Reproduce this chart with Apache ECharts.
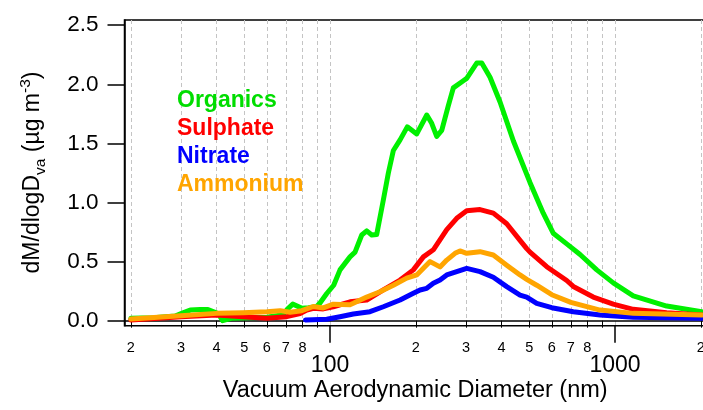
<!DOCTYPE html>
<html>
<head>
<meta charset="utf-8">
<script src="https://cdn.jsdelivr.net/npm/echarts@6/dist/echarts.min.js"></script>
<style>
  html, body { margin: 0; padding: 0; background: #fff; }
  #chart { width: 703px; height: 410px; }
</style>
</head>
<body>
<div id="chart"></div>
<script>
// Mass size distributions, [vacuum aerodynamic diameter (nm), dM/dlogDva (ug m-3)]
const organics = [
  [20, 0.02], [24, 0.025], [28.6, 0.04], [30, 0.06], [32.3, 0.09], [35, 0.095], [37.3, 0.095],
  [40.5, 0.06], [42, 0.0], [45, 0.02], [52, 0.025], [60, 0.03], [68.4, 0.05], [71, 0.1],
  [74, 0.14], [79.8, 0.105], [84, 0.11], [89.8, 0.12], [92.2, 0.15], [97.4, 0.23], [103, 0.3],
  [108.4, 0.43], [117.5, 0.54], [122.4, 0.58], [129.2, 0.725], [134.5, 0.76], [140.1, 0.725],
  [145.8, 0.73], [153.8, 1.02], [160.2, 1.25], [166.8, 1.44], [176.1, 1.53], [186.7, 1.64],
  [201.5, 1.58], [218.5, 1.74], [227.4, 1.67], [236.8, 1.56], [246.6, 1.61], [260.1, 1.82],
  [270.8, 1.97], [293.6, 2.03], [301.7, 2.05], [327.2, 2.18], [340.7, 2.18], [364.3, 2.06],
  [395, 1.85], [440, 1.52], [503, 1.17], [560, 0.91], [607, 0.74], [677, 0.65], [754, 0.56],
  [863, 0.43], [986, 0.32], [1159, 0.21], [1518, 0.124], [2015, 0.076]
];
const sulphate = [
  [20, 0.006], [25, 0.02], [30, 0.034], [40, 0.048], [49.5, 0.034], [60, 0.02], [70.5, 0.034],
  [78.5, 0.06], [82.9, 0.09], [87.4, 0.105], [94.7, 0.1], [102.7, 0.118], [117.5, 0.16],
  [134.5, 0.175], [153.8, 0.26], [176.1, 0.344], [196, 0.43], [212.6, 0.54], [230.4, 0.6],
  [256.8, 0.77], [278.3, 0.866], [301.7, 0.93], [336, 0.94], [374.1, 0.91], [416.9, 0.82],
  [464.2, 0.68], [490, 0.61], [503.2, 0.58], [576, 0.457], [677, 0.34], [714, 0.29],
  [839, 0.2], [986, 0.14], [1159, 0.096], [1518, 0.068], [2015, 0.048]
];
const nitrate = [
  [82, 0.006], [97.4, 0.012], [108.4, 0.034], [120.7, 0.057], [138.1, 0.076], [153.8, 0.118],
  [176.1, 0.175], [196, 0.232], [207, 0.26], [218.5, 0.274], [230.4, 0.316], [243.2, 0.344],
  [256.8, 0.387], [278.3, 0.415], [301.7, 0.443], [336, 0.415], [374.1, 0.367], [416.9, 0.288],
  [464.2, 0.217], [490, 0.2], [531.2, 0.147], [600, 0.11], [714, 0.076], [886, 0.048],
  [1159, 0.029], [2015, 0.02]
];
const ammonium = [
  [20, 0.014], [30, 0.042], [40, 0.062], [49.5, 0.068], [60, 0.076], [66.8, 0.085], [72.4, 0.071],
  [79.6, 0.085], [87.4, 0.12], [94.7, 0.108], [102.7, 0.14], [117.5, 0.135], [120.7, 0.147],
  [134.5, 0.2], [149.7, 0.245], [166.8, 0.3], [185.8, 0.36], [201.5, 0.387], [212.6, 0.443],
  [224.4, 0.5], [243.2, 0.455], [256.8, 0.513], [274.5, 0.57], [285.8, 0.59], [301.7, 0.57],
  [336, 0.584], [374.1, 0.556], [416.9, 0.47], [464.2, 0.387], [490, 0.35], [531.2, 0.3],
  [600, 0.22], [700, 0.155], [886, 0.09], [1159, 0.062], [2015, 0.048]
];

const seriesNames = ['Organics', 'Sulphate', 'Nitrate', 'Ammonium'];
const seriesColors = ['#00F000', '#FF0000', '#0000FF', '#FFA500'];
const legendColors = ['#00DD00', '#FF0000', '#0000FF', '#FFA500'];
const seriesData = [organics, sulphate, nitrate, ammonium];

// Log-axis ticks: minor ticks carry the leading digit, decades carry the full number
const minorTicks = [20, 30, 40, 50, 60, 70, 80, 90, 200, 300, 400, 500, 600, 700, 800, 900, 2000];
const unlabelledTicks = [90, 900];
const majorTicks = [100, 1000];
const gridTicks = minorTicks.concat(majorTicks).sort((a, b) => a - b);
const yTicks = [0, 0.5, 1.0, 1.5, 2.0, 2.5];

const FONT = 'Liberation Sans, Arial, Helvetica, sans-serif';
const X_MIN = 19.0, X_MAX = 2086;
const Y_MIN = -0.0423, Y_MAX = 2.544;

const chart = echarts.init(document.getElementById('chart'), null, { renderer: 'canvas' });

const commonX = {
  type: 'log', logBase: 10, min: X_MIN, max: X_MAX, position: 'bottom'
};

const option = {
  animation: false,
  backgroundColor: '#fff',
  grid: {
    left: 124.5, top: 20, width: 581.5, bottom: 84.3,
    outerBoundsMode: 'none', containLabel: false,
    show: true, borderColor: '#000', borderWidth: 1.5, backgroundColor: 'transparent'
  },
  legend: {
    orient: 'vertical', left: 167, top: 84, itemWidth: 0, itemHeight: 0, itemGap: 5,
    icon: 'none', selectedMode: false,
    data: seriesNames.map((n, i) => ({ name: n, icon: 'none', textStyle: { color: legendColors[i] } })),
    textStyle: { fontFamily: FONT, fontWeight: 'bold', fontSize: 23, lineHeight: 23 }
  },
  xAxis: [
    Object.assign({}, commonX, {
      axisLine: { show: true, lineStyle: { color: '#000', width: 1.5 } },
      axisTick: { show: true, length: 7, customValues: gridTicks.filter(v => majorTicks.indexOf(v) < 0),
                  lineStyle: { color: '#000', width: 1 } },
      axisLabel: {
        customValues: minorTicks.filter(v => unlabelledTicks.indexOf(v) < 0),
        margin: 15, color: '#000', fontFamily: FONT, fontSize: 14.5,
        formatter: v => String(Math.round(v)).charAt(0)
      },
      splitLine: { show: false },
      name: 'Vacuum Aerodynamic Diameter (nm)', nameLocation: 'middle', nameGap: 53,
      nameTextStyle: { color: '#000', fontFamily: FONT, fontSize: 23.5 }
    }),
    Object.assign({}, commonX, {
      axisLine: { show: false },
      axisTick: { show: true, length: 17, customValues: majorTicks, lineStyle: { color: '#000', width: 1.5 } },
      axisLabel: {
        customValues: majorTicks, margin: 28, color: '#000', fontFamily: FONT, fontSize: 23,
        formatter: v => String(Math.round(v))
      },
      splitLine: { show: false }
    }),
    Object.assign({}, commonX, {
      // dashed vertical guides at every decade subdivision
      axisLine: { show: false },
      axisTick: { show: false, customValues: gridTicks },
      axisLabel: { show: false, customValues: gridTicks },
      splitLine: { show: true, lineStyle: { color: '#c4c4c4', width: 1, type: [4, 3] } }
    })
  ],
  yAxis: {
    type: 'value', min: Y_MIN, max: Y_MAX,
    axisLine: { show: true, lineStyle: { color: '#000', width: 1.5 } },
    axisTick: { show: true, length: 17, customValues: yTicks, lineStyle: { color: '#000', width: 1.5 } },
    axisLabel: {
      customValues: yTicks, margin: 26, color: '#000', fontFamily: FONT, fontSize: 22.5,
      formatter: v => v.toFixed(1)
    },
    splitLine: { show: false }
  },
  graphic: [{
    type: 'text', x: 33, y: 172.5, rotation: Math.PI / 2,
    style: {
      text: '{a|dM/dlogD}{s|va}{a| (µg m}{p|-3}{a|)}',
      align: 'center', verticalAlign: 'middle', fill: '#000',
      rich: {
        a: { fontFamily: FONT, fontSize: 23, lineHeight: 31, fill: '#000' },
        s: { fontFamily: FONT, fontSize: 15.5, lineHeight: 13, verticalAlign: 'bottom', fill: '#000' },
        p: { fontFamily: FONT, fontSize: 15.5, lineHeight: 10, verticalAlign: 'top', fill: '#000' }
      }
    }
  }],
  series: seriesNames.map((n, i) => ({
    name: n, type: 'line', xAxisIndex: 0, data: seriesData[i],
    showSymbol: false, symbol: 'none', smooth: false, z: 2 + i,
    lineStyle: { color: seriesColors[i], width: 5, cap: 'round', join: 'round' },
    itemStyle: { color: seriesColors[i] }
  }))
};

chart.setOption(option);
</script>
</body>
</html>
